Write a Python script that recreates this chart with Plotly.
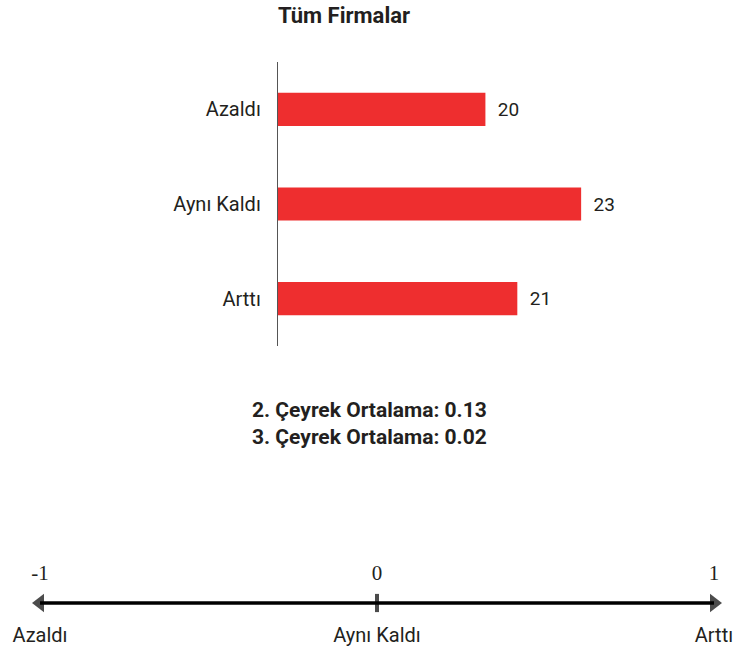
import plotly.graph_objects as go

categories = ["Azaldı", "Aynı Kaldı", "Arttı"]
values = [20, 23, 21]
quarters = ["2. Çeyrek Ortalama", "3. Çeyrek Ortalama"]
averages = [0.13, 0.02]
scale_points = [-1, 0, 1]
scale_labels = ["-1", "0", "1"]

SANS = "Roboto, 'Open Sans', sans-serif"
INK = "#231f20"

fig = go.Figure()

# bar chart
fig.add_trace(go.Bar(
    x=values, y=categories, orientation="h",
    marker=dict(color="#ee2e2f", line=dict(width=0)),
    width=0.35,
    text=values, texttemplate="  %{text}", textposition="outside",
    textfont=dict(family=SANS, size=19, color=INK),
    cliponaxis=False, xaxis="x", yaxis="y",
))

# number line
fig.add_trace(go.Scatter(
    x=scale_points, y=[0, 0, 0], mode="lines+markers",
    line=dict(color="black", width=3.5),
    marker=dict(symbol=["triangle-left", "line-ns", "triangle-right"],
                size=[16, 13, 16], color="black",
                line=dict(color="black", width=[0, 4, 0])),
    xaxis="x2", yaxis="y2", hoverinfo="skip",
))
fig.add_trace(go.Scatter(
    x=scale_points, y=[0.44] * 3, mode="text", text=scale_labels,
    textposition="middle center",
    textfont=dict(family="'Liberation Serif', 'Times New Roman', serif", size=21, color=INK),
    xaxis="x2", yaxis="y2", hoverinfo="skip",
))
fig.add_trace(go.Scatter(
    x=scale_points, y=[-0.52] * 3, mode="text", text=categories,
    textposition="middle center",
    textfont=dict(family=SANS, size=20, color=INK),
    xaxis="x2", yaxis="y2", hoverinfo="skip",
))

summary = "<br>".join(f"{q}: {a:.2f}" for q, a in zip(quarters, averages))
fig.add_annotation(text=summary, xref="paper", yref="paper", x=370 / 736, y=1 - 423 / 647,
                   xanchor="center", yanchor="middle", showarrow=False,
                   font=dict(family=SANS, size=21, color=INK, weight="bold"))

fig.update_layout(
    width=736, height=647,
    margin=dict(l=0, r=0, t=0, b=0),
    paper_bgcolor="white", plot_bgcolor="white",
    showlegend=False,
    title=dict(text="<b>Tüm Firmalar</b>", x=344 / 736, xanchor="center",
               y=1 - 15 / 647, yanchor="middle",
               font=dict(family=SANS, size=22, color=INK)),
    xaxis=dict(domain=[278 / 736, 0.95], range=[13.5, 26.7], visible=False),
    yaxis=dict(domain=[1 - 346 / 647, 1 - 62 / 647], categoryorder="array",
               categoryarray=categories, autorange="reversed",
               showline=True, linecolor="#555555", linewidth=1.3,
               showgrid=False, zeroline=False, ticks="", ticklabelstandoff=12,
               tickfont=dict(family=SANS, size=20, color=INK)),
    xaxis2=dict(domain=[0, 1], range=[-1.1187, 1.0653], visible=False, anchor="y2"),
    yaxis2=dict(domain=[0, 0.2], range=[-0.68, 1.32], visible=False, anchor="x2"),
)

fig.write_html("out.html", config={"displayModeBar": False},
               post_script="document.body.style.margin='0';")
